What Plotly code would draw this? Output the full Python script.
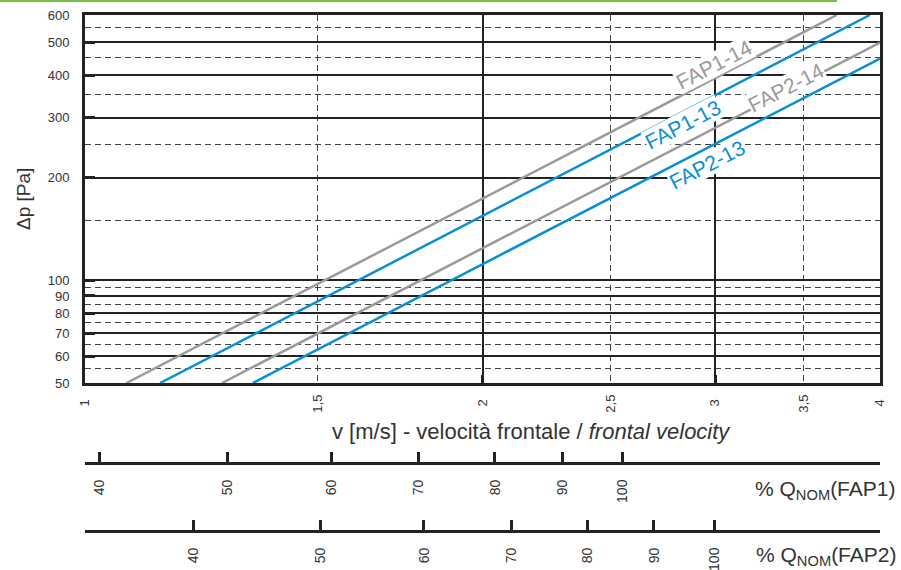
import plotly.graph_objects as go
import math

# ---------------- data ----------------
series_names = ["FAP1-14", "FAP1-13", "FAP2-14", "FAP2-13"]
fap1_14_v = [1.075, 3.71]
fap1_14_dp = [50, 600]
fap1_13_v = [1.14, 3.93]
fap1_13_dp = [50, 600]
fap2_14_v = [1.27, 4.0]
fap2_14_dp = [50, 498]
fap2_13_v = [1.34, 4.0]
fap2_13_dp = [50, 447]

# label anchor points (v, dp)
label_v = [2.995, 2.837, 3.395, 2.960]
label_dp = [430, 286, 368, 219]

# axis ticks
x_major_vals = [1, 2, 3, 4]
x_major_text = ["1", "2", "3", "4"]
x_minor_vals = [1.5, 2.5, 3.5]
x_minor_text = ["1,5", "2,5", "3,5"]
y_major_vals = [50, 60, 70, 80, 90, 100, 200, 300, 400, 500, 600]
y_major_text = ["50", "60", "70", "80", "90", "100", "200", "300", "400", "500", "600"]
y_minor_vals = [55, 65, 75, 85, 95, 150, 250, 350, 450, 550]

# % Q_NOM scales: velocity at each tick
q1_text = ["40", "50", "60", "70", "80", "90", "100"]
q1_v = [1.026, 1.281, 1.536, 1.790, 2.044, 2.301, 2.551]
q2_text = ["40", "50", "60", "70", "80", "90", "100"]
q2_v = [1.209, 1.509, 1.806, 2.102, 2.400, 2.697, 2.995]

# ---------------- styling ----------------
W, H = 901, 570
FONT = "Liberation Sans, Arial, sans-serif"
GRAY = "#9a9a9a"
BLUE = "#0b8fd3"
DARK = "#222222"
TXT = "#333333"

x_dom = [85 / W, 880 / W]
y_dom = [(H - 383) / H, (H - 15) / H]
xr = [math.log10(1), math.log10(4)]
yr = [math.log10(50), math.log10(600)]

fig = go.Figure()
for v, dp, name, col in [
    (fap1_14_v, fap1_14_dp, series_names[0], GRAY),
    (fap2_14_v, fap2_14_dp, series_names[2], GRAY),
    (fap1_13_v, fap1_13_dp, series_names[1], BLUE),
    (fap2_13_v, fap2_13_dp, series_names[3], BLUE),
]:
    fig.add_trace(go.Scatter(x=v, y=dp, mode="lines", name=name,
                             line=dict(color=col, width=2.5),
                             showlegend=False, hoverinfo="skip"))

# empty carrier traces so that the extra scales get drawn
for ax, vals in [("x4", x_minor_vals), ("x2", q1_v), ("x3", q2_v)]:
    fig.add_trace(go.Scatter(x=vals, y=[None] * len(vals), xaxis=ax, yaxis="y",
                             mode="lines", showlegend=False, hoverinfo="skip"))

label_cols = [GRAY, BLUE, GRAY, BLUE]
ann = []
for name, v, dp, col in zip(series_names, label_v, label_dp, label_cols):
    ann.append(dict(x=math.log10(v), y=math.log10(dp), xref="x", yref="y",
                    xanchor="center", yanchor="middle",
                    text=name, showarrow=False, textangle=-27.3,
                    font=dict(family=FONT, size=21, color=col),
                    bgcolor="white", borderpad=0))

def paper_text(px, py, text, size, angle=0):
    return dict(x=px / W, y=(H - py) / H, xref="paper", yref="paper",
                xanchor="center", yanchor="middle", text=text,
                showarrow=False, textangle=angle,
                font=dict(family=FONT, size=size, color=TXT))

ann += [
    paper_text(23, 199, "Δp [Pa]", 19, -90),
    paper_text(531, 431, "v [m/s] - velocità frontale / <i>frontal velocity</i>", 22),
    paper_text(825, 490, "% Q<sub>NOM</sub>(FAP1)", 21),
    paper_text(826, 556, "% Q<sub>NOM</sub>(FAP2)", 21),
]

common_x = dict(type="log", range=xr, domain=x_dom, fixedrange=True, automargin=False)

fig.update_layout(
    template="none",
    width=W, height=H,
    margin=dict(l=0, r=0, t=0, b=0, autoexpand=False),
    paper_bgcolor="white", plot_bgcolor="white",
    font=dict(family=FONT, color=TXT),
    xaxis=dict(**common_x, anchor="y",
               tickmode="array", tickvals=x_major_vals, ticktext=x_major_text,
               tickangle=-90, ticks="inside", ticklen=8, tickwidth=3, tickcolor=DARK,
               showline=True, linewidth=3, linecolor=DARK, mirror=True,
               showgrid=True, gridcolor=DARK, gridwidth=1.5, zeroline=False,
               tickfont=dict(size=13, color=TXT), ticklabelstandoff=8,
               minor=dict(tickmode="array", tickvals=x_minor_vals, showgrid=True,
                          griddash="6px,4px", gridcolor="#444444", gridwidth=1.2,
                          ticks="")),
    xaxis4=dict(**common_x, anchor="y", overlaying="x", side="bottom",
                tickmode="array", tickvals=x_minor_vals, ticktext=x_minor_text,
                tickangle=-90, ticks="", showline=False, showgrid=False,
                zeroline=False,
                tickfont=dict(size=13, color=TXT), ticklabelstandoff=8),
    xaxis2=dict(**common_x, anchor="free", position=(H - 463) / H,
                overlaying="x", side="bottom",
                tickmode="array", tickvals=q1_v, ticktext=q1_text,
                tickangle=-90, ticks="inside", ticklen=10, tickwidth=3, tickcolor=DARK,
                showline=True, linewidth=3, linecolor=DARK, showgrid=False,
                zeroline=False,
                tickfont=dict(size=14, color=TXT), ticklabelstandoff=9),
    xaxis3=dict(**common_x, anchor="free", position=(H - 531) / H,
                overlaying="x", side="bottom",
                tickmode="array", tickvals=q2_v, ticktext=q2_text,
                tickangle=-90, ticks="inside", ticklen=10, tickwidth=3, tickcolor=DARK,
                showline=True, linewidth=3, linecolor=DARK, showgrid=False,
                zeroline=False,
                tickfont=dict(size=14, color=TXT), ticklabelstandoff=9),
    yaxis=dict(type="log", range=yr, domain=y_dom, anchor="x", fixedrange=True,
               automargin=False,
               tickmode="array", tickvals=y_major_vals, ticktext=y_major_text,
               ticks="inside", ticklen=10, tickwidth=3, tickcolor=DARK,
               showline=True, linewidth=3, linecolor=DARK, mirror=True,
               showgrid=True, gridcolor=DARK, gridwidth=1.5, zeroline=False,
               tickfont=dict(size=13, color=TXT), ticklabelstandoff=10,
               minor=dict(tickmode="array", tickvals=y_minor_vals, showgrid=True,
                          griddash="6px,4px", gridcolor="#444444", gridwidth=1.2,
                          ticks="")),
    annotations=ann,
    shapes=[dict(type="line", xref="paper", yref="paper",
                 x0=0, x1=837 / W, y0=1 - 1 / H, y1=1 - 1 / H,
                 line=dict(color="#7cbd47", width=2))],
)

fig.write_html("out.html",
               config={"displayModeBar": False},
               post_script="document.body.style.margin='0px';"
                           "document.body.style.overflow='hidden';")
